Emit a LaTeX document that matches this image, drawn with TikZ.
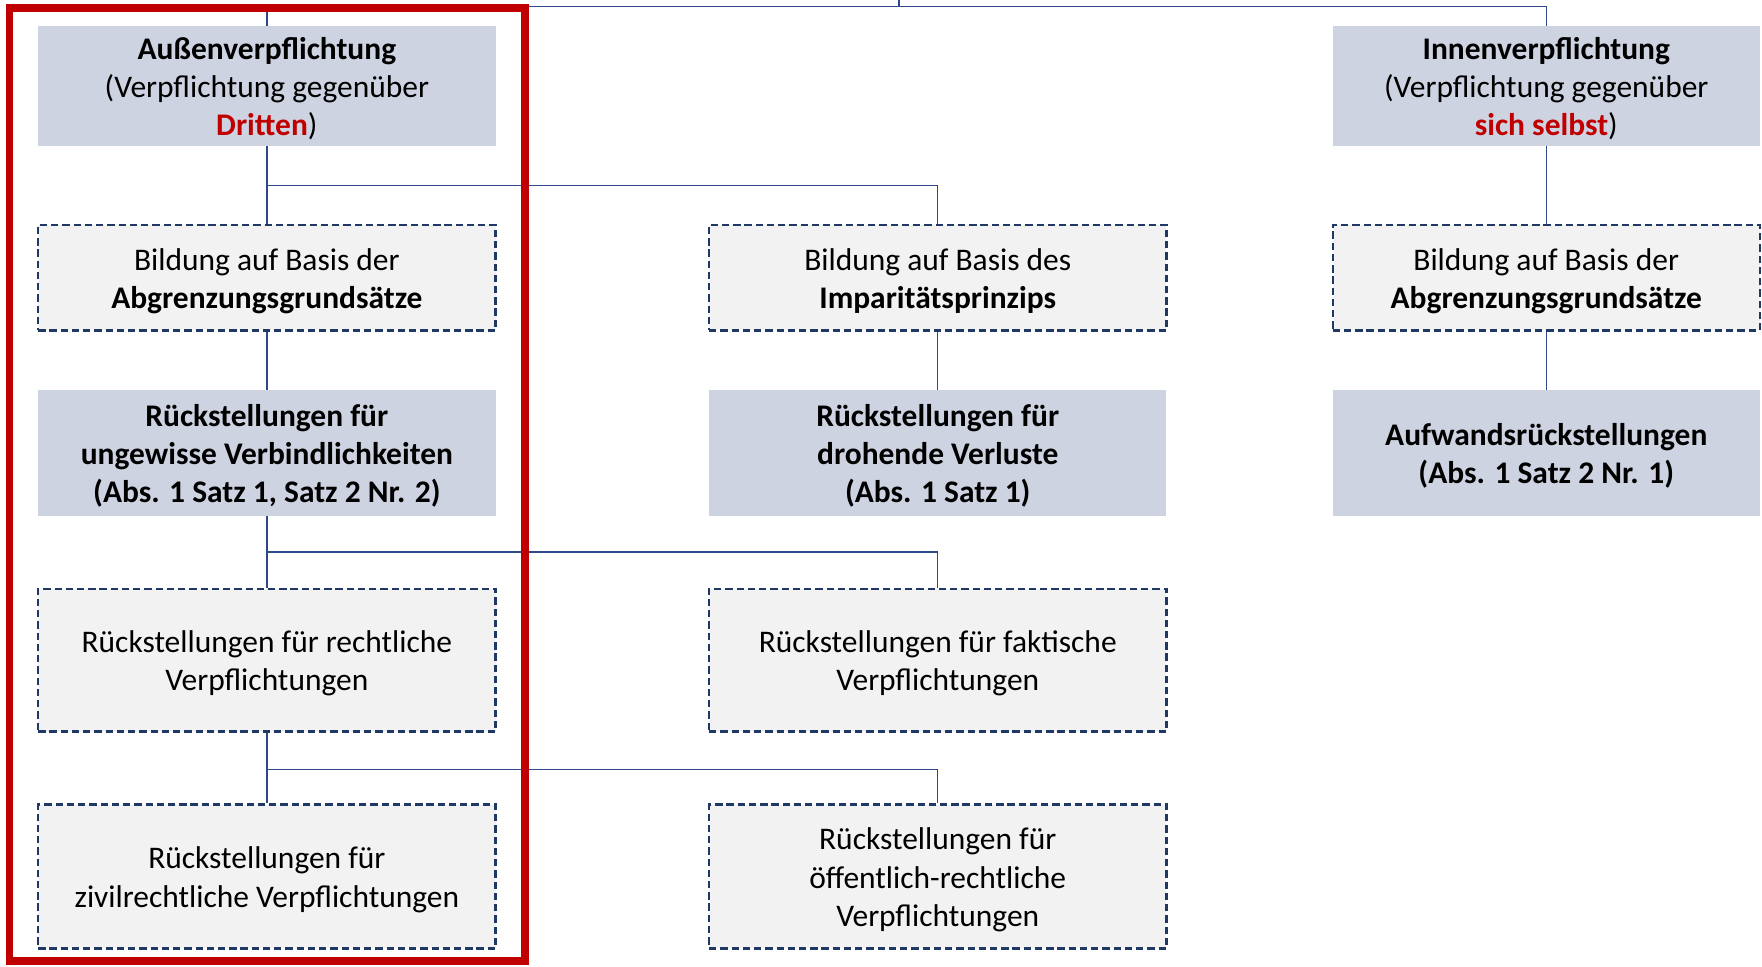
\documentclass[tikz,border=0pt]{standalone}
\usepackage{fontspec}
\setmainfont{Carlito}
\definecolor{dred}{RGB}{192,0,0}
\definecolor{boxblue}{RGB}{205,211,225}
\definecolor{boxgrey}{RGB}{242,242,242}
\definecolor{dashnavy}{RGB}{31,56,100}
\definecolor{linkblue}{RGB}{47,72,140}
\newcommand{\boxtext}[1]{\raisebox{-3.5pt}[\height][\depth]{\begin{tabular}{@{}c@{}}#1\end{tabular}}}
\tikzset{
  solidbox/.style={fill=boxblue, draw=none, inner sep=0pt, align=center, minimum height=#1},
  dashbox/.style={fill=boxgrey, draw=dashnavy, line width=2pt, dash pattern=on 6.5pt off 3.5pt, inner sep=0pt, align=center, minimum height=#1},
  wideL/.style={minimum width=407pt},
  wideR/.style={minimum width=380pt},
  link/.style={draw=linkblue, line width=1.3pt},
  frame/.style={draw=dred, line width=7pt}
}
\begin{document}
\begin{tikzpicture}[x=1pt,y=-1pt, font=\fontsize{28}{34}\selectfont]
\useasboundingbox (0,0) rectangle (1568,860);
% row 1
\node[solidbox=107pt, wideL] (aussen) at (237.5,76.5) {\boxtext{\textbf{Außenverpflichtung}\\(Verpflichtung gegenüber\\\textcolor{dred}{\textbf{Dritten}})}};
\node[solidbox=107pt, wideR] (innen) at (1376,76.5) {\boxtext{\textbf{Innenverpflichtung}\\(Verpflichtung gegenüber\\\textcolor{dred}{\textbf{sich selbst}})}};
% row 2
\node[dashbox=94pt, wideL] (bl) at (237.5,247) {\boxtext{Bildung auf Basis der\\\textbf{Abgrenzungsgrundsätze}}};
\node[dashbox=94pt, wideL] (bm) at (834.5,247) {\boxtext{Bildung auf Basis des\\\textbf{Imparitätsprinzips}}};
\node[dashbox=94pt, wideR] (br) at (1376,247) {\boxtext{Bildung auf Basis der\\\textbf{Abgrenzungsgrundsätze}}};
% row 3
\node[solidbox=112pt, wideL] (rl) at (237.5,403) {\boxtext{\textbf{Rückstellungen für}\\\textbf{ungewisse Verbindlichkeiten}\\\textbf{(Abs. 1 Satz 1, Satz 2 Nr. 2)}}};
\node[solidbox=112pt, wideL] (rm) at (834.5,403) {\boxtext{\textbf{Rückstellungen für}\\\textbf{drohende Verluste}\\\textbf{(Abs. 1 Satz 1)}}};
\node[solidbox=112pt, wideR] (rr) at (1376,403) {\boxtext{\textbf{Aufwandsrückstellungen}\\\textbf{(Abs. 1 Satz 2 Nr. 1)}}};
% row 4
\node[dashbox=127pt, wideL] (vl) at (237.5,587.5) {\boxtext{Rückstellungen für rechtliche\\Verpflichtungen}};
\node[dashbox=127pt, wideL] (vm) at (834.5,587.5) {\boxtext{Rückstellungen für faktische\\Verpflichtungen}};
% row 5
\node[dashbox=128pt, wideL] (zl) at (237.5,780) {\boxtext{Rückstellungen für\\zivilrechtliche Verpflichtungen}};
\node[dashbox=128pt, wideL] (zm) at (834.5,780) {\boxtext{Rückstellungen für\\öffentlich-rechtliche\\Verpflichtungen}};
% connectors
\coordinate (topc) at (800,0);
\coordinate (bus) at (800,6);
\draw[link] (topc) -- (bus);
\draw[link] (aussen.north) -- (aussen.north |- bus) -- (innen.north |- bus) -- (innen.north);
\draw[link] (aussen.south) -- (bl.north);
\draw[link] (aussen.south) ++(0,35) -| (bm.north);
\draw[link] (innen.south) -- (br.north);
\draw[link] (bl.south) -- (rl.north);
\draw[link] (bm.south) -- (rm.north);
\draw[link] (br.south) -- (rr.north);
\draw[link] (rl.south) -- (vl.north);
\draw[link] (rl.south) ++(0,32) -| (vm.north);
\draw[link] (vl.south) -- (zl.north);
\draw[link] (vl.south) ++(0,33) -| (zm.north);
% red frame
\draw[frame] (8.5,7) rectangle (467,855);
\end{tikzpicture}
\end{document}
